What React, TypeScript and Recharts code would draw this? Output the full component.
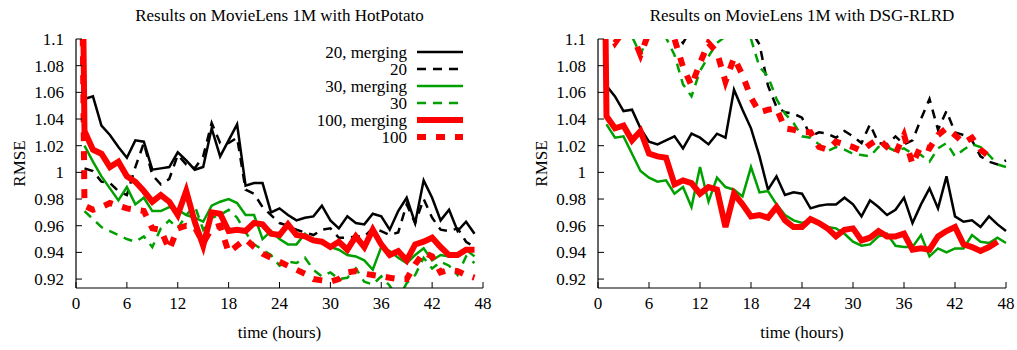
import React from 'react';
import { LineChart, Line, XAxis, YAxis } from 'recharts';

// time axis (hours), one sample per hour
const HOURS = [
  0, 1, 2, 3, 4, 5, 6, 7, 8, 9, 10, 11, 12, 13, 14, 15, 16, 17, 18, 19, 20, 21, 22, 23, 24,
  25, 26, 27, 28, 29, 30, 31, 32, 33, 34, 35, 36, 37, 38, 39, 40, 41, 42, 43, 44, 45, 46, 47, 48,
];
const X_TICKS = [0, 6, 12, 18, 24, 30, 36, 42, 48];
const Y_TICKS = [0.92, 0.94, 0.96, 0.98, 1, 1.02, 1.04, 1.06, 1.08, 1.1];
const Y_MIN = 0.9133;
const Y_MAX = 1.1;

// ---- HotPotato ----
const hp20m = [null, 1.055, 1.057, 1.035, 1.028, 1.019, 1.011, 1.024, 1.023, 1.002, 1.003, 1.004, 1.015, 1.009, 1.002, 1.004, 1.033, 1.012, 1.024, 1.036, 0.990, 0.992, 0.992, 0.970, 0.973, 0.968, 0.964, 0.966, 0.967, 0.975, 0.964, 0.958, 0.967, 0.962, 0.961, 0.969, 0.967, 0.957, 0.971, 0.981, 0.962, 0.994, 0.981, 0.964, 0.972, 0.956, 0.963, 0.954, null];
const hp20 = [null, 1.003, 1.001, 0.993, 0.992, 0.986, 0.983, 1.004, 1.022, 0.998, 0.991, 0.995, 1.013, 1.006, 1.003, 1.012, 1.037, 1.022, 1.022, 1.026, 0.987, 0.984, 0.974, 0.968, 0.962, 0.960, 0.957, 0.955, 0.953, 0.957, 0.958, 0.951, 0.951, 0.952, 0.952, 0.958, 0.956, 0.953, 0.955, 0.976, 0.962, 0.980, 0.966, 0.957, 0.956, 0.958, 0.948, 0.944, null];
const hp30m = [null, 1.020, 1.008, 0.997, 0.988, 0.979, 0.989, 0.976, 0.981, 0.971, 0.971, 0.974, 0.972, 0.968, 0.966, 0.963, 0.975, 0.978, 0.980, 0.977, 0.968, 0.968, 0.950, 0.956, 0.950, 0.946, 0.946, 0.954, 0.949, 0.947, 0.944, 0.942, 0.938, 0.937, 0.934, 0.927, 0.944, 0.941, 0.936, 0.932, 0.938, 0.943, 0.934, 0.938, 0.937, 0.938, 0.942, 0.937, null];
const hp30 = [null, 0.971, 0.965, 0.959, 0.956, 0.953, 0.950, 0.948, 0.952, 0.944, 0.958, 0.964, 0.958, 0.968, 0.975, 0.957, 0.966, 0.968, 0.972, 0.966, 0.955, 0.946, 0.942, 0.938, 0.930, 0.933, 0.932, 0.936, 0.927, 0.922, 0.925, 0.920, 0.921, 0.928, 0.918, 0.916, 0.922, 0.915, 0.905, 0.917, 0.923, 0.936, 0.928, 0.933, 0.930, 0.923, 0.937, 0.932, null];
const hp100m = [1.6, 1.031, 1.017, 1.014, 1.004, 1.008, 0.997, 0.993, 0.986, 0.978, 0.983, 0.978, 0.968, 0.986, 0.963, 0.945, 0.970, 0.969, 0.956, 0.957, 0.956, 0.962, 0.961, 0.954, 0.953, 0.961, 0.953, 0.952, 0.949, 0.948, 0.944, 0.948, 0.942, 0.952, 0.944, 0.957, 0.946, 0.938, 0.941, 0.934, 0.946, 0.948, 0.951, 0.944, 0.938, 0.938, 0.942, 0.942, null];
const hp100 = [1.6, 0.975, 0.972, 0.974, 0.977, 0.975, 0.973, 0.972, 0.971, 0.958, 0.957, 0.942, 0.958, 0.960, 0.959, 0.947, 0.958, 0.960, 0.940, 0.945, 0.950, 0.944, 0.939, 0.936, 0.933, 0.930, 0.927, 0.924, 0.920, 0.919, 0.918, 0.920, 0.925, 0.926, 0.924, 0.923, 0.922, 0.921, 0.920, 0.920, 0.931, 0.940, 0.937, 0.925, 0.927, 0.926, 0.923, 0.921, null];

// ---- DSG-RLRD ----
const dsg20m = [null, 1.065, 1.057, 1.046, 1.047, 1.033, 1.023, 1.021, 1.024, 1.027, 1.018, 1.029, 1.026, 1.021, 1.029, 1.026, 1.062, 1.047, 1.033, 1.012, 0.987, 0.997, 0.983, 0.985, 0.984, 0.973, 0.975, 0.976, 0.976, 0.981, 0.976, 0.967, 0.979, 0.974, 0.968, 0.972, 0.981, 0.962, 0.976, 0.988, 0.973, 0.997, 0.967, 0.963, 0.964, 0.959, 0.967, 0.961, 0.956];
const dsg20 = [null, 1.120, 1.118, 1.120, 1.122, 1.115, 1.118, 1.120, 1.115, 1.105, 1.097, 1.108, 1.115, 1.112, 1.105, 1.112, 1.120, 1.115, 1.106, 1.096, 1.065, 1.049, 1.045, 1.044, 1.041, 1.027, 1.030, 1.029, 1.026, 1.031, 1.027, 1.022, 1.036, 1.022, 1.021, 1.027, 1.021, 1.024, 1.040, 1.055, 1.032, 1.046, 1.030, 1.028, 1.024, 1.012, 1.008, 1.006, 1.009];
const dsg30m = [null, 1.036, 1.026, 1.027, 1.014, 1.001, 0.996, 0.993, 0.994, 0.984, 0.989, 0.974, 1.004, 0.978, 0.996, 0.989, 0.987, 0.982, 1.004, 0.985, 0.986, 0.976, 0.968, 0.964, 0.962, 0.964, 0.961, 0.959, 0.958, 0.954, 0.948, 0.945, 0.946, 0.952, 0.954, 0.945, 0.944, 0.944, 0.953, 0.937, 0.943, 0.940, 0.943, 0.943, 0.953, 0.948, 0.947, 0.951, 0.947];
const dsg30 = [null, 1.105, 1.101, 1.105, 1.102, 1.088, 1.105, 1.110, 1.101, 1.088, 1.066, 1.057, 1.076, 1.087, 1.097, 1.102, 1.110, 1.110, 1.100, 1.079, 1.072, 1.055, 1.044, 1.037, 1.027, 1.026, 1.021, 1.016, 1.019, 1.017, 1.014, 1.013, 1.012, 1.019, 1.019, 1.016, 1.018, 1.014, 1.013, 1.008, 1.018, 1.022, 1.012, 1.017, 1.021, 1.019, 1.013, 1.006, 1.004];
const dsg100m = [1.6, 1.042, 1.033, 1.035, 1.024, 1.031, 1.014, 1.012, 1.011, 0.991, 0.994, 0.992, 0.984, 0.989, 0.987, 0.959, 0.984, 0.976, 0.967, 0.968, 0.966, 0.974, 0.964, 0.959, 0.959, 0.965, 0.962, 0.958, 0.952, 0.957, 0.958, 0.949, 0.951, 0.956, 0.952, 0.952, 0.954, 0.942, 0.943, 0.942, 0.952, 0.956, 0.959, 0.946, 0.944, 0.941, 0.944, 0.948, null];
const dsg100 = [null, 1.110, 1.097, 1.106, 1.104, 1.088, 1.105, 1.115, 1.110, 1.100, 1.079, 1.065, 1.082, 1.097, 1.090, 1.068, 1.086, 1.073, 1.056, 1.045, 1.047, 1.048, 1.033, 1.032, 1.030, 1.030, 1.019, 1.017, 1.023, 1.021, 1.019, 1.016, 1.021, 1.025, 1.019, 1.014, 1.028, 1.006, 1.020, 1.018, 1.028, 1.033, 1.028, 1.022, 1.026, 1.017, 1.012, null, null];

const GREEN = '#00a000';
const RED = '#ff0000';
const FONT = "'Liberation Serif', 'Times New Roman', Times, serif";

const SERIES = [
  { key: 'm20', name: '20, merging', color: '#000', width: 2.5, dash: undefined },
  { key: 'p20', name: '20', color: '#000', width: 2.5, dash: '9 7' },
  { key: 'm30', name: '30, merging', color: GREEN, width: 2.5, dash: undefined },
  { key: 'p30', name: '30', color: GREEN, width: 2.5, dash: '9 7' },
  { key: 'm100', name: '100, merging', color: RED, width: 6, dash: undefined },
  { key: 'p100', name: '100', color: RED, width: 6, dash: '9 10' },
];

const PLOT_TOP = 39;
const PLOT_BOTTOM = 288;

const fmtY = (v: number) => String(Number(v.toFixed(2)));

const bottomTick = (props: any) => {
  const { x, y, payload } = props;
  return (
    <g>
      <line x1={x} y1={y} x2={x} y2={y - 6} stroke="#000" />
      <text x={x} y={y + 21} textAnchor="middle" fontFamily={FONT} fontSize={17} fill="#000">
        {payload.value}
      </text>
    </g>
  );
};
const topTick = (props: any) => {
  const { x, y } = props;
  return <line x1={x} y1={y} x2={x} y2={y + 6} stroke="#000" />;
};
const leftTick = (props: any) => {
  const { x, y, payload } = props;
  return (
    <g>
      <line x1={x} y1={y} x2={x + 6} y2={y} stroke="#000" />
      <text x={x - 12} y={y + 6} textAnchor="end" fontFamily={FONT} fontSize={17} fill="#000">
        {fmtY(payload.value)}
      </text>
    </g>
  );
};
const rightTick = (props: any) => {
  const { x, y } = props;
  return <line x1={x} y1={y} x2={x - 6} y2={y} stroke="#000" />;
};

type PanelProps = {
  title: string;
  left: number;
  width: number;
  yAxisWidth: number;
  marginRight: number;
  values: Record<string, (number | null)[]>;
  legend?: boolean;
};

function Panel({ title, left, width, yAxisWidth, marginRight, values, legend }: PanelProps) {
  const rows = HOURS.map((h, i) => {
    const r: Record<string, number | null> = { h };
    SERIES.forEach((s) => (r[s.key] = values[s.key][i]));
    return r;
  });
  const plotLeft = left + yAxisWidth;
  const plotRight = left + width - marginRight;
  const cx = (plotLeft + plotRight) / 2;
  const cy = (PLOT_TOP + PLOT_BOTTOM) / 2;
  const frame = { stroke: '#000', strokeWidth: 1.2 };

  return (
    <>
      <div style={{ position: 'absolute', left, top: 0 }}>
        <LineChart
          width={width}
          height={350}
          data={rows}
          margin={{ top: PLOT_TOP, right: marginRight, bottom: 0, left: 0 }}
        >
          <XAxis
            dataKey="h"
            type="number"
            domain={[0, 48]}
            ticks={X_TICKS}
            interval={0}
            height={62}
            tickSize={0}
            tickMargin={0}
            tickLine={false}
            tick={bottomTick}
            axisLine={frame}
          />
          <XAxis
            xAxisId="top"
            orientation="top"
            dataKey="h"
            type="number"
            domain={[0, 48]}
            ticks={X_TICKS}
            interval={0}
            height={0}
            tickSize={0}
            tickMargin={0}
            tickLine={false}
            tick={topTick}
            axisLine={frame}
          />
          <YAxis
            type="number"
            domain={[Y_MIN, Y_MAX]}
            allowDataOverflow
            ticks={Y_TICKS}
            interval={0}
            width={yAxisWidth}
            tickSize={0}
            tickMargin={0}
            tickLine={false}
            tick={leftTick}
            axisLine={frame}
          />
          <YAxis
            yAxisId="right"
            orientation="right"
            type="number"
            domain={[Y_MIN, Y_MAX]}
            allowDataOverflow
            ticks={Y_TICKS}
            interval={0}
            width={0}
            tickSize={0}
            tickMargin={0}
            tickLine={false}
            tick={rightTick}
            axisLine={frame}
          />
          {SERIES.map((s) => (
            <Line
              key={s.key}
              dataKey={s.key}
              name={s.name}
              type="linear"
              stroke={s.color}
              strokeWidth={s.width}
              strokeDasharray={s.dash}
              strokeLinejoin="miter"
              strokeLinecap="butt"
              dot={false}
              activeDot={false}
              isAnimationActive={false}
            />
          ))}
        </LineChart>
      </div>
      <svg
        width={1017}
        height={350}
        style={{ position: 'absolute', left: 0, top: 0, pointerEvents: 'none' }}
        fontFamily={FONT}
        fontSize={17}
      >
        <text x={cx} y={21} textAnchor="middle" fill="#000">{title}</text>
        <text x={cx} y={338} textAnchor="middle" fill="#000">time (hours)</text>
        <text
          x={plotLeft - 57}
          y={cy}
          textAnchor="middle"
          dominantBaseline="central"
          transform={`rotate(-90 ${plotLeft - 57} ${cy})`}
          fill="#000"
        >
          RMSE
        </text>
        {legend &&
          SERIES.map((s, i) => {
            const y = 52 + i * 17;
            return (
              <g key={s.key}>
                <text x={plotRight - 76} y={y + 6} textAnchor="end" fill="#000">{s.name}</text>
                <line
                  x1={plotRight - 66}
                  x2={plotRight - 20}
                  y1={y}
                  y2={y}
                  stroke={s.color}
                  strokeWidth={s.width}
                  strokeDasharray={s.dash}
                />
              </g>
            );
          })}
      </svg>
    </>
  );
}

export default function App() {
  return (
    <div style={{ position: 'absolute', left: 0, top: 0, width: 1017, height: 350, background: '#fff' }}>
      <Panel
        title="Results on MovieLens 1M with HotPotato"
        left={0}
        width={509}
        yAxisWidth={76}
        marginRight={26}
        values={{ m20: hp20m, p20: hp20, m30: hp30m, p30: hp30, m100: hp100m, p100: hp100 }}
        legend
      />
      <Panel
        title="Results on MovieLens 1M with DSG-RLRD"
        left={509}
        width={508}
        yAxisWidth={89}
        marginRight={11}
        values={{ m20: dsg20m, p20: dsg20, m30: dsg30m, p30: dsg30, m100: dsg100m, p100: dsg100 }}
      />
    </div>
  );
}
